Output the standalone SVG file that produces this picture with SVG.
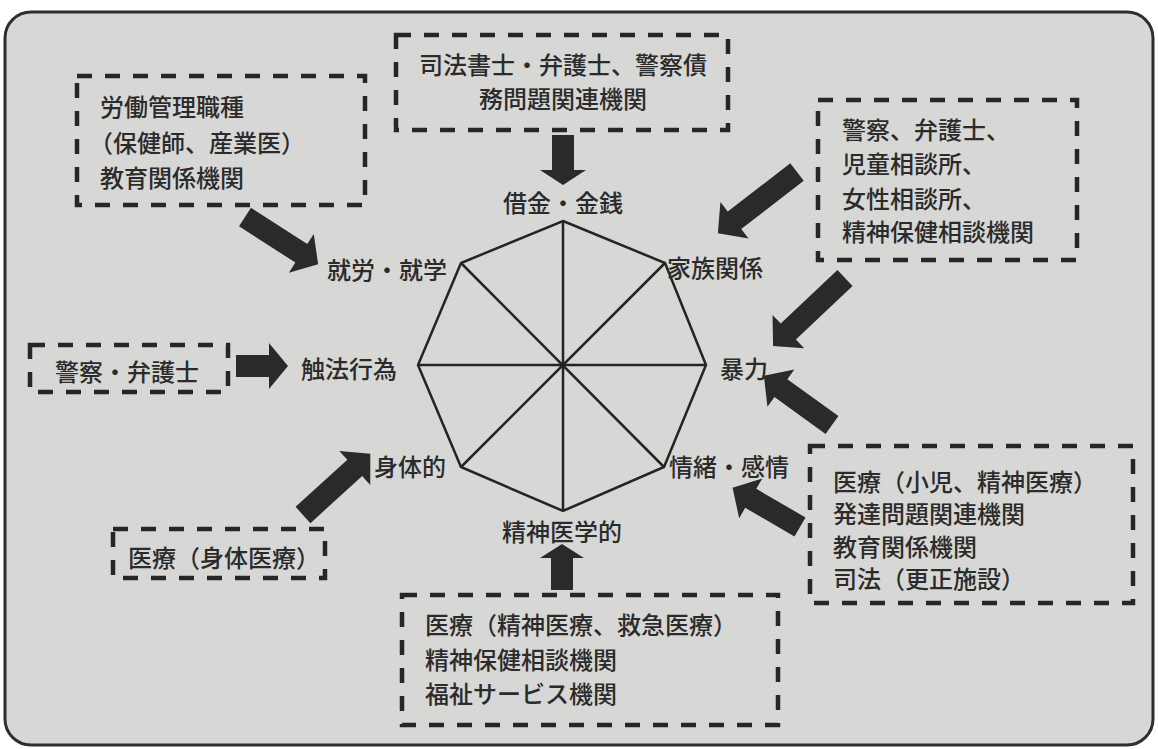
<svg xmlns="http://www.w3.org/2000/svg" width="1158" height="749" viewBox="0 0 1158 749">
  <defs>
    <style>
      .t { font-family: "Noto Sans CJK JP", "Noto Sans CJK SC", sans-serif; font-size: 24px; font-weight: 500; fill: #2b2b2b; dominant-baseline: central; }
      .box { fill: none; stroke: #262626; stroke-width: 4.5; stroke-dasharray: 15 13; }
      .arr { fill: #2a2a2a; }
      .oct { fill: none; stroke: #242424; stroke-width: 2.5; stroke-linejoin: miter; }
    </style>
  </defs>
  <rect x="0" y="0" width="1158" height="749" fill="#ffffff"/>
  <rect x="5" y="12" width="1148" height="733" rx="26" fill="#d7d7d6" stroke="#2e2e2e" stroke-width="3"/>

  <g id="radar">
    <polygon class="oct" points="563,221 665,263 706,365 664,467 563,511 461,467 418,365 461,263"/>
    <line class="oct" x1="563" y1="221" x2="563" y2="511"/>
    <line class="oct" x1="418" y1="365" x2="706" y2="365"/>
    <line class="oct" x1="461" y1="263" x2="664" y2="467"/>
    <line class="oct" x1="665" y1="263" x2="461" y2="467"/>
  </g>

  <g id="axis-labels">
    <text class="t" x="563" y="201" text-anchor="middle">借金・金銭</text>
    <text class="t" x="667" y="266">家族関係</text>
    <text class="t" x="447" y="268" text-anchor="end">就労・就学</text>
    <text class="t" x="397" y="367" text-anchor="end">触法行為</text>
    <text class="t" x="720" y="367">暴力</text>
    <text class="t" x="669" y="465">情緒・感情</text>
    <text class="t" x="446" y="465" text-anchor="end">身体的</text>
    <text class="t" x="562" y="530" text-anchor="middle">精神医学的</text>
  </g>

  <g id="node-top">
    <rect class="box" x="396" y="35" width="332" height="95"/>
    <text class="t" x="563" y="63" text-anchor="middle">司法書士・弁護士、警察債</text>
    <text class="t" x="563" y="97" text-anchor="middle">務問題関連機関</text>
  </g>

  <g id="node-topleft">
    <rect class="box" x="77" y="76" width="288" height="129"/>
    <text class="t" x="100" y="105">労働管理職種</text>
    <text class="t" x="89" y="141">（保健師、産業医）</text>
    <text class="t" x="100" y="176">教育関係機関</text>
  </g>

  <g id="node-topright">
    <rect class="box" x="818" y="100" width="259" height="160"/>
    <text class="t" x="842" y="128">警察、弁護士、</text>
    <text class="t" x="842" y="162">児童相談所、</text>
    <text class="t" x="842" y="197">女性相談所、</text>
    <text class="t" x="842" y="230">精神保健相談機関</text>
  </g>

  <g id="node-left">
    <rect class="box" x="30" y="345" width="198" height="47"/>
    <text class="t" x="55" y="370">警察・弁護士</text>
  </g>

  <g id="node-right">
    <rect class="box" x="810" y="446" width="323" height="157"/>
    <text class="t" x="833" y="480">医療（小児、精神医療）</text>
    <text class="t" x="833" y="512">発達問題関連機関</text>
    <text class="t" x="833" y="545">教育関係機関</text>
    <text class="t" x="833" y="577">司法（更正施設）</text>
  </g>

  <g id="node-bottom">
    <rect class="box" x="402" y="595" width="376" height="130"/>
    <text class="t" x="425" y="623">医療（精神医療、救急医療）</text>
    <text class="t" x="425" y="658">精神保健相談機関</text>
    <text class="t" x="425" y="692">福祉サービス機関</text>
  </g>

  <g id="node-bottomleft">
    <rect class="box" x="113" y="529" width="212" height="49"/>
    <text class="t" x="128" y="556">医療（身体医療）</text>
  </g>

  <g id="connectors">
    <path class="arr" transform="translate(563,135) rotate(90)" d="M0,-11 H35 V-23 L50,0 L35,23 V11 H0 Z"/>
    <path class="arr" transform="translate(245,217) rotate(32.8)" d="M0,-11 H67 V-23 L87,0 L67,23 V11 H0 Z"/>
    <path class="arr" transform="translate(797,172) rotate(142.3)" d="M0,-11 H79 V-23 L100,0 L79,23 V11 H0 Z"/>
    <path class="arr" transform="translate(845,278) rotate(136.6)" d="M0,-11 H78 V-23 L99,0 L78,23 V11 H0 Z"/>
    <path class="arr" transform="translate(832,425) rotate(-144.2)" d="M0,-11 H63 V-23 L84,0 L63,23 V11 H0 Z"/>
    <path class="arr" transform="translate(800,527) rotate(-149.8)" d="M0,-11 H57 V-23 L78,0 L57,23 V11 H0 Z"/>
    <path class="arr" transform="translate(303,515) rotate(-42.3)" d="M0,-11 H70 V-23 L91,0 L70,23 V11 H0 Z"/>
    <path class="arr" transform="translate(236,366) rotate(0)" d="M0,-11 H33 V-23 L52,0 L33,23 V11 H0 Z"/>
    <path class="arr" transform="translate(562,590) rotate(-90)" d="M0,-11 H32 V-22 L46,0 L32,22 V11 H0 Z"/>
  </g>
</svg>
